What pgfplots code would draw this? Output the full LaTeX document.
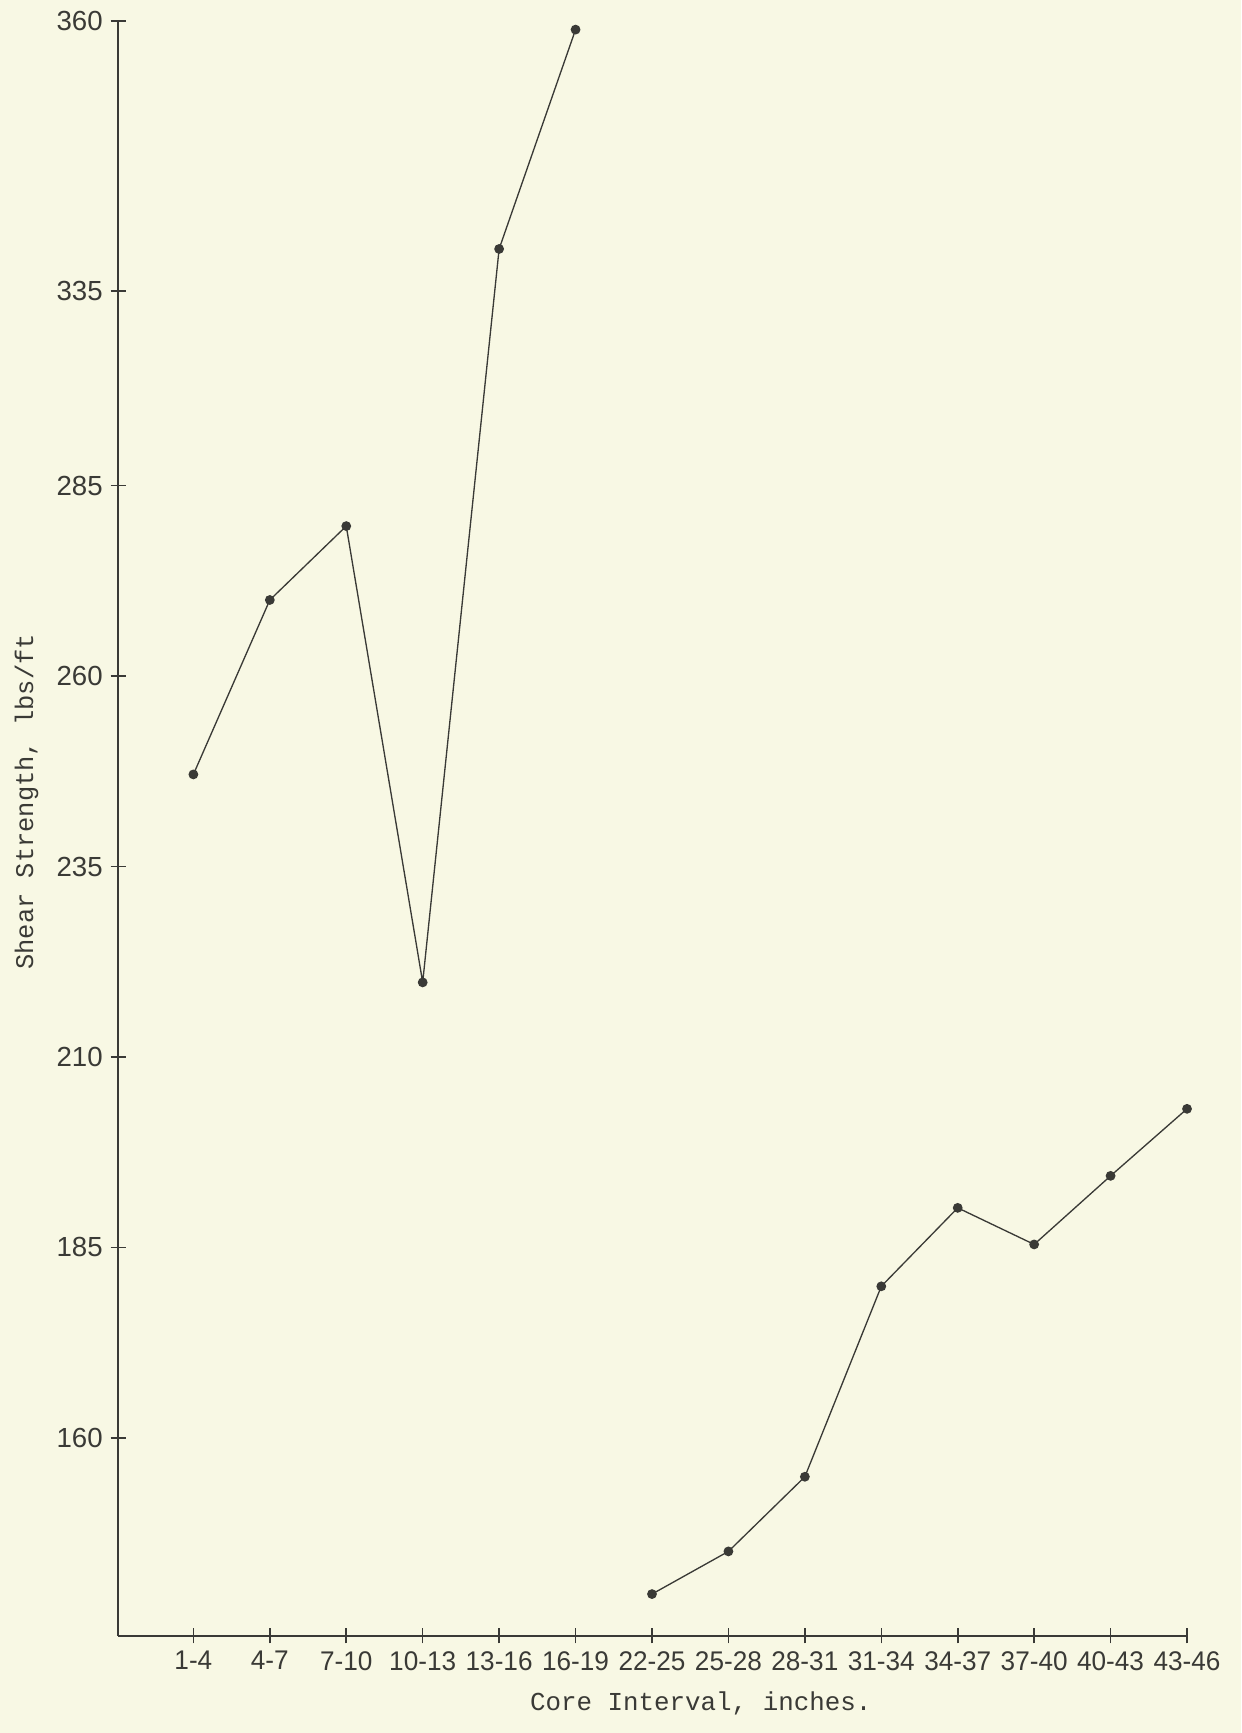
\documentclass[border=0pt]{standalone}
\usepackage{pgfplots}
\pgfplotsset{compat=1.18}
\usepackage{fontspec}
\setmainfont{Liberation Sans}
\newfontfamily\tw{Liberation Mono}
\newfontfamily\xtf[FakeStretch=0.97]{Liberation Sans}
\definecolor{paper}{HTML}{F8F8E4}
\definecolor{ink}{HTML}{3A3A36}
\begin{document}
\begin{tikzpicture}[x=1pt,y=1pt]
\fill[paper] (0,0) rectangle (561.5,784);
\begin{axis}[
  at={(53.5pt,44pt)}, anchor=south west,
  scale only axis, width=483.5pt, height=731pt,
  xmin=-0.983, xmax=13.0, ymin=134.03, ymax=360.1,
  clip=false,
  axis x line*=bottom, axis y line*=left,
  axis line style={ink, line width=0.7pt},
  tick align=center, major tick length=7pt,
  tick style={ink, line width=0.7pt},
  y coord trafo/.code={\pgfmathparse{(#1<285.0001)?(#1):((#1<335.0001)?(285+0.5110*(#1-285)):(310.55+1.4185*(#1-335)))}},
  xtick={0,...,13},
  xticklabels={1-4,4-7,7-10,10-13,13-16,16-19,22-25,25-28,28-31,31-34,34-37,37-40,40-43,43-46},
  ytick={160,185,210,235,260,285,335,360},
  yticklabels={160,185,210,235,260,285,335,360},
  x tick label style={font=\xtf\fontsize{12.2}{13}\selectfont, text=ink},
  y tick label style={font=\fontsize{12.5}{13}\selectfont, text=ink},
  xlabel={Core Interval, inches.},
  ylabel={Shear Strength, lbs/ft},
  xlabel style={font=\tw\fontsize{11.7}{12}\selectfont, text=ink, at={(axis description cs:0.545,-0.0417)}, anchor=center},
  ylabel style={font=\tw\fontsize{11.5}{12}\selectfont, text=ink, at={(axis description cs:-0.0858,0.516)}, anchor=center},
]
\addplot[ink, line width=0.6pt, mark=*, mark size=1.9pt, mark options={fill=ink, draw=ink}]
  coordinates {(0,247.1)(1,270.0)(2,279.7)(3,219.8)(4,338.9)(5,359.2)};
\addplot[ink, line width=0.6pt, mark=*, mark size=1.9pt, mark options={fill=ink, draw=ink}]
  coordinates {(6,139.5)(7,145.1)(8,154.9)(9,179.9)(10,190.2)(11,185.4)(12,194.4)(13,203.2)};
\end{axis}
\end{tikzpicture}
\end{document}
